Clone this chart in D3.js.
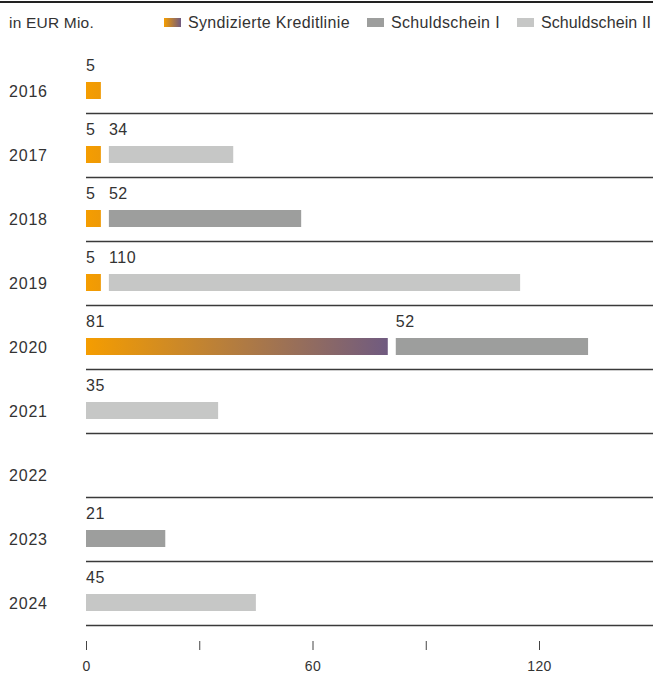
<!DOCTYPE html>
<html>
<head>
<meta charset="utf-8">
<script src="https://cdn.jsdelivr.net/npm/d3@7"></script>
<style>
  body { margin: 0; background: #fff; }
  svg { display: block; font-family: "Liberation Sans", Arial, sans-serif; }
</style>
</head>
<body>
<div id="canvas"></div>
<script>
var years = ["2016", "2017", "2018", "2019", "2020", "2021", "2022", "2023", "2024"];
var syndiziert = [5, 5, 5, 5, 81, 0, 0, 0, 0];
var schuldschein1 = [0, 0, 52, 0, 52, 0, 0, 21, 0];
var schuldschein2 = [0, 34, 0, 110, 0, 35, 0, 0, 45];
var seriesNames = ["Syndizierte Kreditlinie", "Schuldschein I", "Schuldschein II"];
var tickValues = [0, 30, 60, 90, 120];
var tickLabels = ["0", "", "60", "", "120"];

var width = 653, height = 675;
var colors = ["url(#grad)", "#9d9e9d", "#c6c7c6"];
var gap = 4;

var svg = d3.select("#canvas")
  .append("svg")
  .attr("width", width)
  .attr("height", height);

var x = d3.scaleLinear()
  .domain([0, 120])
  .range([86, 539]);

var y = d3.scaleBand()
  .domain(years)
  .range([49.5, 625.5])
  .padding(0);

// gradient over the whole orange span
var grad = svg.append("defs").append("linearGradient")
  .attr("id", "grad")
  .attr("gradientUnits", "userSpaceOnUse")
  .attr("x1", x(0)).attr("x2", x(d3.max(syndiziert)))
  .attr("y1", 0).attr("y2", 0);
grad.append("stop").attr("offset", "0%").attr("stop-color", "#f59d00");
grad.append("stop").attr("offset", "100%").attr("stop-color", "#6e5a82");

var legGrad = svg.select("defs").append("linearGradient")
  .attr("id", "legGrad");
legGrad.append("stop").attr("offset", "0%").attr("stop-color", "#f59d00");
legGrad.append("stop").attr("offset", "100%").attr("stop-color", "#6e5a82");

// top rule
svg.append("line")
  .attr("x1", 0).attr("x2", width)
  .attr("y1", 2).attr("y2", 2)
  .attr("stroke", "#222")
  .attr("stroke-width", 2);

svg.append("text")
  .attr("x", 9).attr("y", 28)
  .style("font-size", "15.5px")
  .style("letter-spacing", "0.2px")
  .attr("fill", "#333")
  .text("in EUR Mio.");

// legend
var legX = [164, 367, 517];
var legend = svg.append("g");
seriesNames.forEach(function (name, i) {
  legend.append("rect")
    .attr("x", legX[i]).attr("y", 18)
    .attr("width", 17).attr("height", 9)
    .attr("fill", i === 0 ? "url(#legGrad)" : colors[i]);
  legend.append("text")
    .attr("x", legX[i] + 24).attr("y", 28)
    .style("font-size", "16px")
    .style("letter-spacing", i === 2 ? "0.1px" : "0.35px")
    .attr("fill", "#333")
    .text(name);
});

// row separators
svg.append("g")
  .selectAll("line")
  .data(years)
  .enter()
  .append("line")
  .attr("x1", x(0)).attr("x2", width)
  .attr("y1", d => y(d) + y.bandwidth())
  .attr("y2", d => y(d) + y.bandwidth())
  .attr("stroke", "#3a3a3a")
  .attr("stroke-width", 1.3);

// build segments
var segs = [];
years.forEach(function (yr, i) {
  var vals = [syndiziert[i], schuldschein1[i], schuldschein2[i]];
  var parts = [];
  vals.forEach(function (v, s) { if (v > 0) parts.push({ s: s, v: v }); });
  var cum = 0;
  parts.forEach(function (p, j) {
    var x0 = x(cum) + (j > 0 ? gap : 0);
    var shrink = (parts.length > 1 || p.s === 0) ? gap : 0;
    var w = x(p.v) - x(0) - shrink;
    segs.push({ year: yr, s: p.s, v: p.v, x: x0, w: w });
    cum += p.v;
  });
});

var rows = svg.append("g");

rows.selectAll("text.year")
  .data(years)
  .enter()
  .append("text")
  .attr("class", "year")
  .attr("x", 9)
  .attr("y", d => y(d) + 47)
  .style("font-size", "16px")
  .style("letter-spacing", "0.8px")
  .attr("fill", "#333")
  .text(d => d);

rows.selectAll("rect")
  .data(segs)
  .enter()
  .append("rect")
  .attr("x", d => d.x)
  .attr("y", d => y(d.year) + 32.5)
  .attr("width", d => d.w)
  .attr("height", 17)
  .attr("fill", d => colors[d.s]);

rows.selectAll("text.val")
  .data(segs)
  .enter()
  .append("text")
  .attr("class", "val")
  .attr("x", d => d.x)
  .attr("y", d => y(d.year) + 21.5)
  .style("font-size", "16px")
  .style("letter-spacing", "0.6px")
  .attr("fill", "#333")
  .text(d => d.v);

// x axis
var xAxisCall = d3.axisBottom(x)
  .tickValues(tickValues)
  .tickSize(9)
  .tickPadding(11)
  .tickFormat((d, i) => tickLabels[i]);

var ax = svg.append("g")
  .attr("class", "x-axis")
  .attr("transform", "translate(0,641)")
  .call(xAxisCall);
ax.select(".domain").remove();
ax.selectAll("line").attr("stroke", "#444");
ax.selectAll("text")
  .style("font-size", "14px")
  .style("letter-spacing", "0.4px")
  .attr("fill", "#333")
  .style("font-family", "Liberation Sans, Arial, sans-serif");
</script>
</body>
</html>
